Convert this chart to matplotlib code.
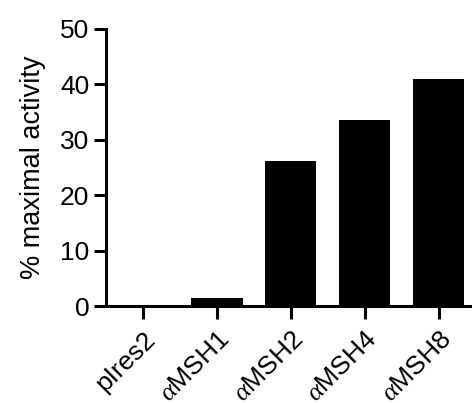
import numpy as np
import matplotlib
matplotlib.use('Agg')
from matplotlib import pyplot as plt

plt.rcParams['font.family'] = ['Liberation Sans', 'DejaVu Sans']
plt.rcParams['mathtext.fontset'] = 'custom'
plt.rcParams['mathtext.it'] = 'Liberation Serif:italic'

labels = ['pIres2', r'$\mathit{\alpha}$MSH1', r'$\mathit{\alpha}$MSH2', r'$\mathit{\alpha}$MSH4', r'$\mathit{\alpha}$MSH8']
activity = [0.0, 1.4, 26.2, 33.5, 40.9]
yticks = [0, 10, 20, 30, 40, 50]

fig = plt.figure(figsize=(4.72, 4.03), dpi=100)
ax = fig.add_axes([106 / 472, 97 / 403, 364 / 472, 277 / 403])

x = np.arange(len(labels))
ax.bar(x, activity, width=0.69, color='black')

ax.set_xlim(-0.5, 4.42)
ax.set_ylim(0, 50)
ax.set_yticks(yticks)
ax.set_xticks(x)
ax.set_xticklabels(labels, rotation=45, ha='right', va='top', rotation_mode='anchor')
ax.set_ylabel('% maximal activity', fontsize=19.5, labelpad=10)

for s in ['top', 'right']:
    ax.spines[s].set_visible(False)
for s in ['left', 'bottom']:
    ax.spines[s].set_linewidth(2.2)
ax.tick_params(direction='out', length=9, width=2.2, labelsize=19, pad=3)
ax.tick_params(axis='x', pad=6)

fig.savefig('out.png', dpi=100)
